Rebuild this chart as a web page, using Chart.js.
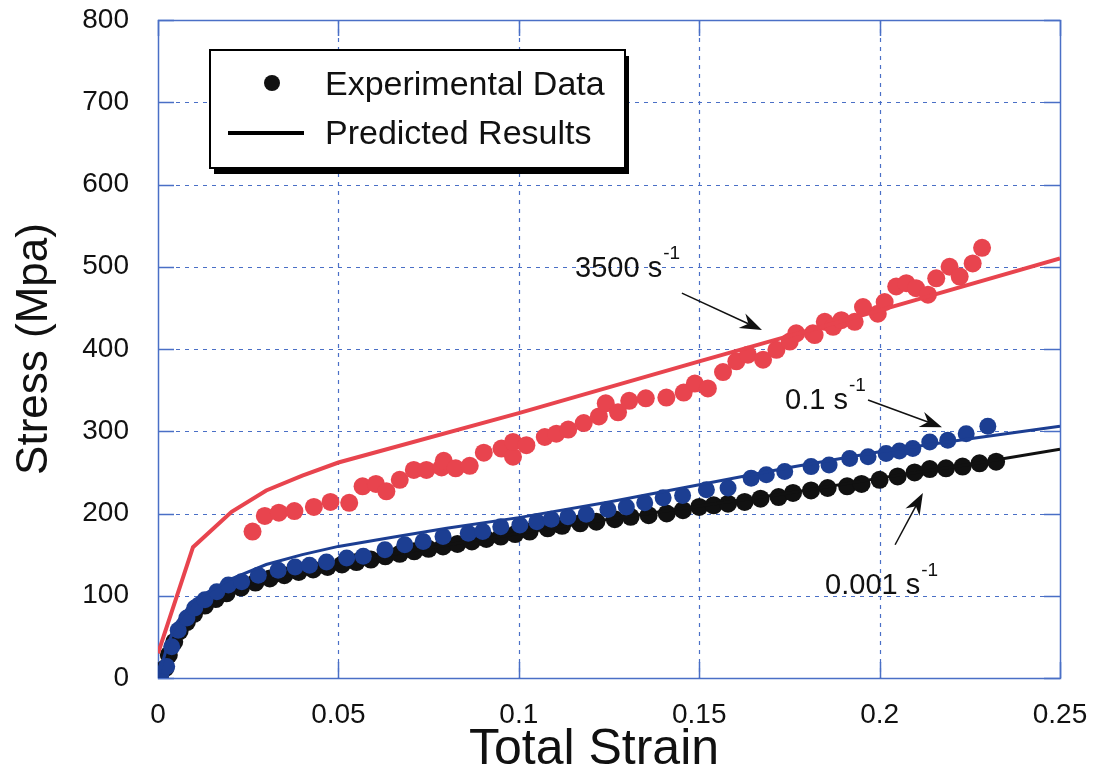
<!DOCTYPE html>
<html>
<head>
    <title>Stress vs Total Strain</title>
    <script src="https://cdn.jsdelivr.net/npm/chart.js"></script>
    <style>
        body { margin: 0; background: #fff; }
    </style>
</head>
<body>
    <canvas id="myChart" width="1095" height="772"></canvas>
    <script>
        // axis ticks
        var strainTicks = [0, 0.05, 0.1, 0.15, 0.2, 0.25];
        var stressTicks = [0, 100, 200, 300, 400, 500, 600, 700, 800];

        // experimental data, 3500 /s
        var exp3500Strain = [0.0262, 0.0296, 0.0335, 0.0378, 0.0432, 0.0478, 0.053, 0.0567, 0.0604, 0.0633,
            0.067, 0.0709, 0.0744, 0.0786, 0.0792, 0.0825, 0.0864, 0.0903, 0.0952, 0.0984, 0.0984, 0.1021,
            0.1072, 0.1104, 0.1137, 0.118, 0.1222, 0.1241, 0.1275, 0.1306, 0.1352, 0.1409, 0.1457, 0.1488,
            0.1524, 0.1566, 0.1603, 0.1635, 0.1677, 0.1714, 0.1751, 0.1769, 0.1815, 0.182, 0.1848, 0.1871,
            0.1894, 0.1931, 0.1954, 0.1995, 0.2014, 0.2046, 0.2074, 0.2101, 0.2134, 0.2157, 0.2194, 0.2222,
            0.2258, 0.2284];
        var exp3500Stress = [178, 197, 201, 203, 208, 214, 213, 233, 236, 227,
            241, 253, 253, 256, 264, 255, 258, 274, 279, 269, 287, 283,
            293, 297, 302, 310, 318, 334, 323, 337, 340, 341, 347, 358,
            352, 372, 385, 393, 387, 399, 409, 419, 419, 417, 433, 427,
            435, 433, 451, 443, 457, 476, 480, 474, 466, 486, 500, 488,
            504, 523];

        // experimental data, 0.1 /s
        var exp01Strain = [0.0008, 0.0024, 0.0038, 0.0056, 0.008, 0.0102, 0.013, 0.0163, 0.0195, 0.0232,
            0.0278, 0.0333, 0.038, 0.042, 0.0467, 0.0523, 0.0569, 0.0629, 0.0684, 0.0735, 0.079, 0.086,
            0.09, 0.095, 0.1003, 0.105, 0.109, 0.1136, 0.1187, 0.1247, 0.1298, 0.1349, 0.14, 0.1454,
            0.152, 0.158, 0.1644, 0.1686, 0.1737, 0.181, 0.186, 0.1917, 0.1968, 0.2018, 0.2055, 0.2092,
            0.2139, 0.2189, 0.224, 0.23];
        var exp01Stress = [5, 14, 38, 58, 73, 85, 95, 105, 113, 117,
            125, 131, 135, 137, 141, 146, 148, 156, 162, 166, 172, 176,
            178, 184, 186, 190, 193, 196, 199, 205, 208, 213, 219, 222,
            229, 231, 243, 247, 251, 257, 259, 267, 269, 273, 276, 279,
            287, 289, 297, 306];

        // experimental data, 0.001 /s
        var exp0001Strain = [0.0005, 0.002, 0.003, 0.0045, 0.006, 0.008, 0.01, 0.013, 0.016, 0.019,
            0.023, 0.027, 0.031, 0.035, 0.039, 0.043, 0.047, 0.051, 0.055, 0.059, 0.063, 0.067, 0.071,
            0.075, 0.079, 0.083, 0.087, 0.091, 0.095, 0.099, 0.103, 0.108, 0.112, 0.117, 0.1215, 0.1266,
            0.131, 0.136, 0.141, 0.1455, 0.15, 0.154, 0.158, 0.1626, 0.167, 0.172, 0.176, 0.181, 0.1856,
            0.191, 0.195, 0.2, 0.205, 0.2097, 0.2139, 0.2184, 0.223, 0.2277, 0.2323];
        var exp0001Stress = [3, 12, 28, 44, 57, 68, 78, 88, 96, 103,
            110, 116, 121, 125, 129, 132, 135, 138, 141, 144, 148, 151, 154,
            157, 160, 163, 166, 169, 172, 175, 178, 182, 185, 188, 190, 193,
            196, 198, 200, 204, 208, 210, 212, 214, 218, 220, 225, 228, 231,
            233, 236, 241, 245, 250, 254, 255, 257, 261, 263];

        // predicted curves
        var pred3500Strain = [0, 0.0097, 0.0204, 0.03, 0.04, 0.05, 0.1, 0.15, 0.2, 0.25];
        var pred3500Stress = [30, 159, 202, 228, 246, 262, 322, 385, 447, 510];
        var pred01Strain = [0, 0.0025, 0.005, 0.01, 0.02, 0.03, 0.04, 0.05, 0.065, 0.08, 0.1, 0.125, 0.15, 0.175, 0.2, 0.225, 0.25];
        var pred01Stress = [0, 38, 66, 95, 120, 138, 150, 160, 171, 182, 195, 214, 235, 256, 275, 291, 306];
        var pred0001Strain = [0, 0.0025, 0.005, 0.01, 0.02, 0.03, 0.05, 0.075, 0.1, 0.125, 0.15, 0.175, 0.2, 0.225, 0.25];
        var pred0001Stress = [0, 30, 55, 80, 106, 121, 139, 158, 176, 193, 209, 225, 243, 260, 278];

        function pairs(xs, ys) {
            return xs.map(function(x, i) { return { x: x, y: ys[i] }; });
        }

        var RED = '#e8444e';
        var BLUE = '#1c3e92';
        var BLACK = '#111111';
        var GRID = '#4a6fc6';
        var FONT = '"Liberation Sans", Arial, Helvetica, sans-serif';

        // frame, dashed grid and inward tick marks
        var gridPlugin = {
            id: 'grid',
            beforeDatasetsDraw: function(chart) {
                var ctx = chart.ctx, a = chart.chartArea;
                var xs = chart.scales.x, ys = chart.scales.y;
                ctx.save();
                ctx.strokeStyle = GRID;
                ctx.lineWidth = 1.2;
                ctx.setLineDash([4, 5]);
                strainTicks.slice(1, -1).forEach(function(v) {
                    var px = Math.round(xs.getPixelForValue(v)) + 0.5;
                    ctx.beginPath(); ctx.moveTo(px, a.top); ctx.lineTo(px, a.bottom); ctx.stroke();
                });
                stressTicks.slice(1, -1).forEach(function(v) {
                    var py = Math.round(ys.getPixelForValue(v)) + 0.5;
                    ctx.beginPath(); ctx.moveTo(a.left, py); ctx.lineTo(a.right, py); ctx.stroke();
                });
                ctx.setLineDash([]);
                ctx.lineWidth = 1.5;
                strainTicks.forEach(function(v) {
                    var px = Math.round(xs.getPixelForValue(v)) + 0.5;
                    ctx.beginPath();
                    ctx.moveTo(px, a.bottom); ctx.lineTo(px, a.bottom - 16);
                    ctx.moveTo(px, a.top); ctx.lineTo(px, a.top + 16);
                    ctx.stroke();
                });
                stressTicks.forEach(function(v) {
                    var py = Math.round(ys.getPixelForValue(v)) + 0.5;
                    ctx.beginPath();
                    ctx.moveTo(a.left, py); ctx.lineTo(a.left + 16, py);
                    ctx.moveTo(a.right, py); ctx.lineTo(a.right - 16, py);
                    ctx.stroke();
                });
                ctx.strokeRect(a.left + 0.5, a.top + 0.5, a.right - a.left, a.bottom - a.top);
                ctx.restore();
            }
        };

        function arrow(ctx, x1, y1, x2, y2) {
            var ang = Math.atan2(y2 - y1, x2 - x1);
            var len = 22, half = 8, notch = 15;
            ctx.beginPath(); ctx.moveTo(x1, y1);
            ctx.lineTo(x2 - Math.cos(ang) * notch, y2 - Math.sin(ang) * notch);
            ctx.stroke();
            ctx.save();
            ctx.translate(x2, y2); ctx.rotate(ang);
            ctx.beginPath();
            ctx.moveTo(0, 0);
            ctx.lineTo(-len, -half);
            ctx.lineTo(-notch, 0);
            ctx.lineTo(-len, half);
            ctx.closePath();
            ctx.fill();
            ctx.restore();
        }

        function rateLabel(ctx, text, x, y) {
            ctx.font = '29px ' + FONT;
            ctx.textAlign = 'left';
            ctx.textBaseline = 'alphabetic';
            ctx.fillText(text + ' s', x, y);
            var w = ctx.measureText(text + ' s').width;
            ctx.font = '19px ' + FONT;
            ctx.fillText('-1', w + x + 1, y - 18);
        }

        // legend box, x title and strain-rate labels
        var notesPlugin = {
            id: 'notes',
            afterDraw: function(chart) {
                var ctx = chart.ctx;
                var xs = chart.scales.x, ys = chart.scales.y;
                function X(v) { return xs.getPixelForValue(v); }
                function Y(v) { return ys.getPixelForValue(v); }
                ctx.save();
                // legend
                var lx = 210, ly = 50, lw = 415, lh = 118;
                ctx.fillStyle = '#000';
                ctx.fillRect(lx + 4, ly + 6, lw, lh);
                ctx.fillStyle = '#fff';
                ctx.fillRect(lx, ly, lw, lh);
                ctx.strokeStyle = '#000';
                ctx.lineWidth = 2;
                ctx.strokeRect(lx, ly, lw, lh);
                ctx.fillStyle = BLACK;
                ctx.beginPath(); ctx.arc(272, 83, 8, 0, Math.PI * 2); ctx.fill();
                ctx.lineWidth = 4;
                ctx.beginPath(); ctx.moveTo(228, 133); ctx.lineTo(304, 133); ctx.stroke();
                ctx.font = '34px ' + FONT;
                ctx.textBaseline = 'middle';
                ctx.fillText('Experimental Data', 325, 86);
                ctx.fillText('Predicted Results', 325, 135);

                // x axis title
                ctx.font = '50px ' + FONT;
                ctx.textAlign = 'center';
                ctx.textBaseline = 'alphabetic';
                ctx.fillText('Total Strain', 594, 764);

                // rate labels with arrows
                ctx.fillStyle = '#111';
                ctx.strokeStyle = '#111';
                ctx.lineWidth = 1.5;
                rateLabel(ctx, '3500', X(0.1156), Y(488));
                arrow(ctx, X(0.1452), Y(468), X(0.1674), Y(423));
                rateLabel(ctx, '0.1', X(0.1738), Y(327));
                arrow(ctx, X(0.1968), Y(338), X(0.2173), Y(305));
                rateLabel(ctx, '0.001', X(0.1849), Y(102));
                arrow(ctx, X(0.2043), Y(162), X(0.212), Y(225));
                ctx.restore();
            }
        };

        var ctx = document.getElementById('myChart').getContext('2d');
        var myChart = new Chart(ctx, {
            type: 'scatter',
            data: {
                datasets: [{
                    label: 'Predicted 3500',
                    data: pairs(pred3500Strain, pred3500Stress),
                    showLine: true,
                    borderColor: RED,
                    borderWidth: 4,
                    pointRadius: 0,
                    order: 0
                }, {
                    label: 'Experimental 3500',
                    data: pairs(exp3500Strain, exp3500Stress),
                    backgroundColor: RED,
                    borderWidth: 0,
                    pointRadius: 9,
                    order: 1
                }, {
                    label: 'Predicted 0.1',
                    data: pairs(pred01Strain, pred01Stress),
                    showLine: true,
                    borderColor: BLUE,
                    borderWidth: 3,
                    pointRadius: 0,
                    order: 2
                }, {
                    label: 'Experimental 0.1',
                    data: pairs(exp01Strain, exp01Stress),
                    backgroundColor: BLUE,
                    borderWidth: 0,
                    pointRadius: 8.5,
                    order: 3
                }, {
                    label: 'Predicted 0.001',
                    data: pairs(pred0001Strain, pred0001Stress),
                    showLine: true,
                    borderColor: BLACK,
                    borderWidth: 3,
                    pointRadius: 0,
                    order: 4
                }, {
                    label: 'Experimental 0.001',
                    data: pairs(exp0001Strain, exp0001Stress),
                    backgroundColor: BLACK,
                    borderWidth: 0,
                    pointRadius: 9,
                    order: 5
                }]
            },
            options: {
                responsive: false,
                animation: false,
                devicePixelRatio: 1,
                layout: { padding: { left: 0, top: 20, right: 35, bottom: 0 } },
                plugins: {
                    legend: { display: false },
                    tooltip: { enabled: false }
                },
                scales: {
                    x: {
                        type: 'linear',
                        min: 0,
                        max: 0.25,
                        afterFit: function(scale) {
                            scale.height = 94;
                            scale.paddingLeft = 0;
                            scale.paddingRight = 0;
                        },
                        afterBuildTicks: function(scale) {
                            scale.ticks = strainTicks.map(function(v) { return { value: v }; });
                        },
                        grid: { display: false },
                        border: { display: false },
                        ticks: {
                            padding: 12,
                            color: '#111',
                            font: { family: FONT, size: 28 },
                            maxRotation: 0,
                            callback: function(v) { return String(v); }
                        }
                    },
                    y: {
                        type: 'linear',
                        min: 0,
                        max: 800,
                        afterFit: function(scale) {
                            scale.width = 158;
                            scale.paddingTop = 0;
                            scale.paddingBottom = 0;
                        },
                        afterBuildTicks: function(scale) {
                            scale.ticks = stressTicks.map(function(v) { return { value: v }; });
                        },
                        grid: { display: false },
                        border: { display: false },
                        ticks: {
                            padding: 21,
                            color: '#111',
                            font: { family: FONT, size: 28 }
                        },
                        title: {
                            display: true,
                            text: 'Stress (Mpa)',
                            color: '#111',
                            font: { family: FONT, size: 44 },
                            padding: { top: 8, bottom: 0 }
                        }
                    }
                }
            },
            plugins: [gridPlugin, notesPlugin]
        });
    </script>
</body>
</html>
